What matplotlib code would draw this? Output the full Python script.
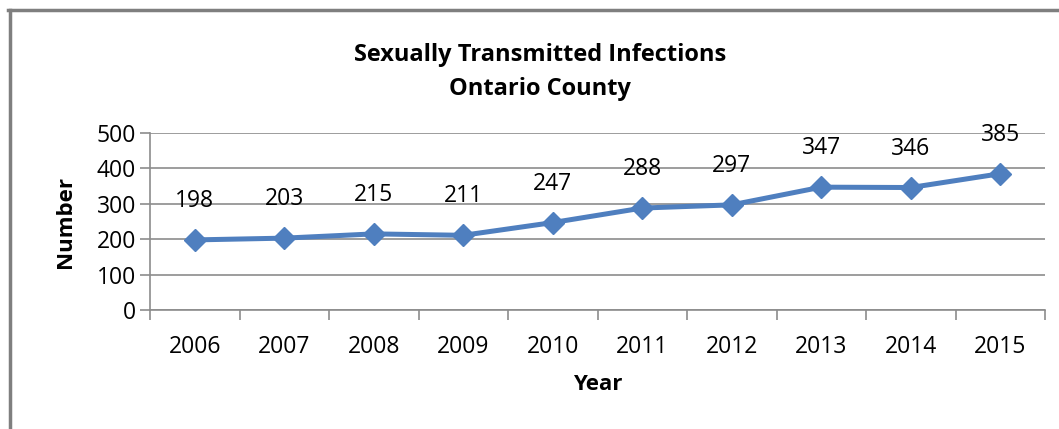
import matplotlib.pyplot as plt
from matplotlib.lines import Line2D

years = ["2006", "2007", "2008", "2009", "2010", "2011", "2012", "2013", "2014", "2015"]
counts = [198, 203, 215, 211, 247, 288, 297, 347, 346, 385]
yticks = [0, 100, 200, 300, 400, 500]

plt.rcParams['font.family'] = ['Open Sans', 'DejaVu Sans']

fig = plt.figure(figsize=(10.59, 4.29), dpi=100)
ax = fig.add_axes([150 / 1059, 1 - 310 / 429, 895 / 1059, 177 / 429])

x = list(range(len(years)))
ax.plot(x, counts, color="#4F7FBF", lw=3.6, marker="D", ms=11, zorder=3)
for xi, v in zip(x, counts):
    ax.annotate(str(v), (xi, v), xytext=(0, 28), textcoords="offset points",
                ha="center", va="center", fontsize=16.5)

ax.set_xlim(-0.5, len(years) - 0.5)
ax.set_ylim(0, 500)
ax.set_yticks(yticks)
ax.yaxis.grid(True, color="#8c8c8c", lw=1.2)
ax.set_axisbelow(True)
ax.set_xticks([i + 0.5 for i in range(-1, len(years))])
ax.set_xticklabels([])
ax.set_xticks(x, minor=True)
ax.set_xticklabels(years, minor=True)
ax.tick_params(axis="x", which="major", length=7, width=1.2, color="#8c8c8c")
ax.tick_params(axis="x", which="minor", length=0, pad=18, labelsize=16.5)
ax.tick_params(axis="y", length=7, width=1.2, color="#8c8c8c", labelsize=16.5, pad=3)
for s in ["top", "right"]:
    ax.spines[s].set_visible(False)
for s in ["left", "bottom"]:
    ax.spines[s].set_color("#8c8c8c")
    ax.spines[s].set_linewidth(1.2)

ax.set_ylabel("Number", fontsize=16, fontweight="bold", labelpad=15)
ax.set_xlabel("Year", fontsize=16, fontweight="bold", labelpad=11)

fig.text(540 / 1059, 1 - 72 / 429, "Sexually Transmitted Infections\nOntario County",
         ha="center", va="center", fontsize=17, fontweight="bold", linespacing=1.6)

# outer chart frame (left and top only visible)
fig.add_artist(Line2D([9.5 / 1059, 9.5 / 1059], [0, 1 - 9.5 / 429], color="#7f7f7f", lw=2.5))
fig.add_artist(Line2D([8 / 1059, 1], [1 - 9.5 / 429, 1 - 9.5 / 429], color="#7f7f7f", lw=2.5))

fig.savefig("out.png", dpi=100)
